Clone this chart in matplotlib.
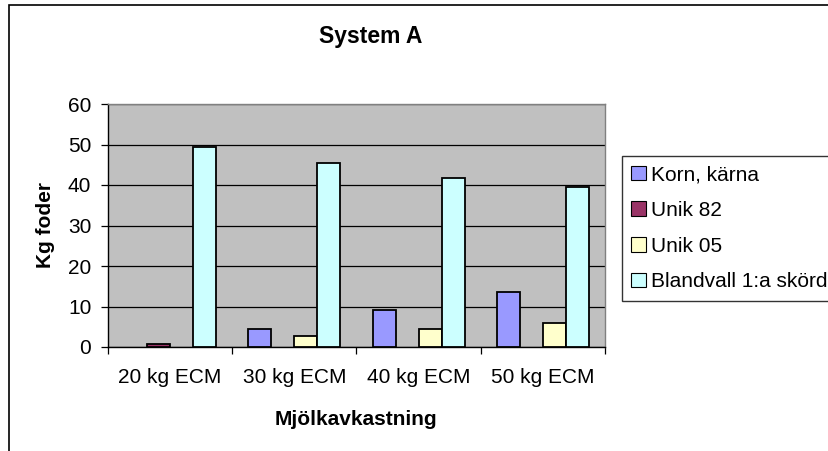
import matplotlib
matplotlib.use("Agg")
import matplotlib.pyplot as plt
from matplotlib.patches import Rectangle
import numpy as np

plt.rcParams['font.family'] = ['Liberation Sans', 'DejaVu Sans']

categories = ["20 kg ECM", "30 kg ECM", "40 kg ECM", "50 kg ECM"]
series_names = ["Korn, kärna", "Unik 82", "Unik 05", "Blandvall 1:a skörd"]
korn = [0.0, 4.4, 9.2, 13.7]
unik82 = [0.7, 0.0, 0.0, 0.0]
unik05 = [0.0, 2.7, 4.4, 6.0]
blandvall = [49.5, 45.4, 41.7, 39.6]
colors = ["#9999FF", "#993366", "#FFFFCC", "#CCFFFF"]
yticks = [0, 10, 20, 30, 40, 50, 60]

W, H = 829, 451
fig = plt.figure(figsize=(W / 100, H / 100), dpi=100)
fig.patch.set_facecolor("white")

# outer chart frame
fig.add_artist(Rectangle((9 / W, -0.05), 1.2, 1 - 5 / H + 0.05,
                         transform=fig.transFigure, fill=False,
                         edgecolor="black", linewidth=1.2))

ax = fig.add_axes([108 / W, 1 - 347 / H, 497 / W, 243 / H])
ax.set_facecolor("#C0C0C0")

x = np.arange(len(categories))
width = 0.185
series = [korn, unik82, unik05, blandvall]
for k, (vals, name, col) in enumerate(zip(series, series_names, colors)):
    v = np.array(vals, dtype=float)
    v[v == 0] = np.nan
    ax.bar(x + (k - 1.5) * width, v, width, color=col, edgecolor="black",
           linewidth=1.3, label=name, zorder=3)

ax.set_xlim(-0.5, len(categories) - 0.5)
ax.set_ylim(0, 60)
ax.set_yticks(yticks)
ax.set_yticklabels([str(t) for t in yticks])
ax.yaxis.grid(True, color="black", linewidth=0.9, zorder=1)
ax.set_axisbelow(True)

ax.set_xticks(np.arange(len(categories) + 1) - 0.5)
ax.set_xticklabels([])
ax.set_xticks(x, minor=True)
ax.set_xticklabels(categories, minor=True)
ax.tick_params(axis="x", which="major", length=5, width=0.9, color="black", direction="out")
ax.tick_params(axis="x", which="minor", length=0, pad=15, labelsize=15)
ax.tick_params(axis="y", length=5, width=0.9, color="black", direction="out",
               labelsize=15, pad=7)

for s in ("top", "right"):
    ax.spines[s].set_color("#808080")
    ax.spines[s].set_linewidth(1.0)
for s in ("left", "bottom"):
    ax.spines[s].set_color("black")
    ax.spines[s].set_linewidth(1.0)

fig.text(371 / W, 1 - 43 / H, "System A", ha="center", va="baseline",
         fontsize=16.5, fontweight="bold")
fig.text(356 / W, 1 - 425 / H, "Mjölkavkastning", ha="center", va="baseline",
         fontsize=15, fontweight="bold")
fig.text(46 / W, 1 - 225 / H, "Kg foder", ha="center", va="center",
         rotation=90, fontsize=15, fontweight="bold")

leg = fig.legend(loc="upper left", bbox_to_anchor=(622 / W, 1 - 156 / H),
                 bbox_transform=fig.transFigure, borderaxespad=0,
                 frameon=True, fancybox=False, shadow=False, fontsize=15,
                 handlelength=0.7, handleheight=0.7, handletextpad=0.25,
                 labelspacing=0.8, borderpad=0.45)
leg.get_frame().set_edgecolor("black")
leg.get_frame().set_linewidth(1.0)
for h in leg.legend_handles:
    h.set_linewidth(0.8)

fig.savefig("out.png", dpi=100)
